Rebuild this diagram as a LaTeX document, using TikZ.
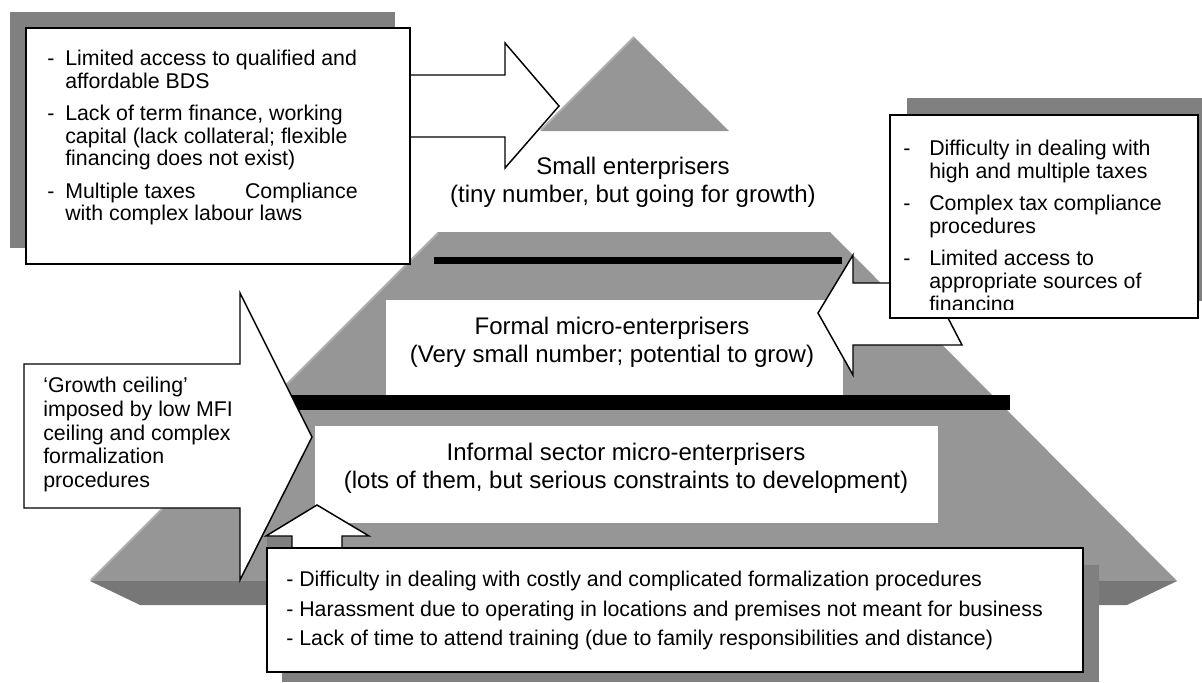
\documentclass[tikz,border=0pt]{standalone}
\usepackage{fontspec}
\setmainfont{Liberation Sans}

\definecolor{facegrey}{HTML}{969696}
\definecolor{bandgrey}{HTML}{777777}
\definecolor{shadowgrey}{HTML}{808080}
\definecolor{edgegrey}{HTML}{B0B0B0}

\newcommand{\dashitem}[2][13.5pt]{\makebox[#1][l]{-}#2}
\newcommand{\hangline}[2][13.5pt]{\hspace*{#1}#2}

\begin{document}
\begin{tikzpicture}[x=0.75pt, y=-0.75pt,
    boxtext/.style={inner sep=0pt, align=left, font=\fontsize{16}{16.9}\selectfont},
    tierlabel/.style={inner sep=0pt, align=center, font=\fontsize{18}{21}\selectfont},
    callout/.style={draw=black, fill=white, line width=1.1pt, line join=miter},
    boxshadow/.style={fill=shadowgrey}]
    \useasboundingbox (0,0) rectangle (1202,682);

    % pyramid
    \fill[facegrey] (438,232) -- (830,232) -- (1177,581) -- (90,581) -- cycle;
    \fill[bandgrey] (90,581) -- (1177,581) -- (1127,605) -- (140,605) -- cycle;
    \draw[edgegrey, line width=1.5pt] (91,580) -- (438,233);
    \fill[facegrey] (634,37) -- (729,131) -- (540,131) -- cycle;
    \draw[edgegrey, line width=1.5pt] (541,130) -- (634,37);

    \fill[black] (434,257) rectangle (842,264);
    \fill[black] (280,395) rectangle (1010,410);
    \fill[white] (386,300) rectangle (843,395);
    \fill[white] (315,426) rectangle (938,523);

    \node[tierlabel, anchor=north] (small) at (633,157) {Small enterprisers\\(tiny number, but going for growth)};
    \node[tierlabel, anchor=north] (formal) at (612,317) {Formal micro-enterprisers\\(Very small number; potential to grow)};
    \node[tierlabel, anchor=north] (informal) at (626,443) {Informal sector micro-enterprisers\\(lots of them, but serious constraints to development)};

    % small enterprises box
    \fill[boxshadow] (10,12) rectangle (395,248);
    \draw[callout] (400,75) -- (505,75) -- (505,43) -- (559,106) -- (505,168) -- (505,137) -- (400,137) -- cycle;
    \draw[callout] (26,28) rectangle (410,264);
    \node[boxtext, anchor=north west] (access) at (47,50) {%
        \dashitem{Limited access to qualified and}\\
        \hangline{affordable BDS}\\[7.5pt]
        \dashitem{Lack of term finance, working}\\
        \hangline{capital (lack collateral; flexible}\\
        \hangline{financing does not exist)}\\[7.5pt]
        \dashitem{Multiple taxes\hspace*{37pt}Compliance}\\
        \hangline{with complex labour laws}};

    % formal box
    \fill[boxshadow] (907,98) rectangle (1202,301);
    \draw[callout] (900,283) -- (853,283) -- (853,255) -- (818,313) -- (853,375) -- (853,345) -- (962,345) -- (948,318) -- (900,318) -- cycle;
    \draw[callout] (890,115) rectangle (1198,318);
    \begin{scope}
        \clip (890,115) rectangle (1198,309);
        \node[boxtext, anchor=north west, font=\fontsize{16}{17.25}\selectfont] (taxes) at (903,140) {%
            \dashitem[19.5pt]{Difficulty in dealing with}\\
            \hangline[19.5pt]{high and multiple taxes}\\[6.75pt]
            \dashitem[19.5pt]{Complex tax compliance}\\
            \hangline[19.5pt]{procedures}\\[6.75pt]
            \dashitem[19.5pt]{Limited access to}\\
            \hangline[19.5pt]{appropriate sources of}\\
            \hangline[19.5pt]{financing}};
    \end{scope}

    % growth ceiling
    \draw[callout] (24,364) -- (240,364) -- (240,293) -- (312,437) -- (240,580) -- (240,508) -- (24,508) -- cycle;
    \node[boxtext, anchor=north west, font=\fontsize{16}{17.8}\selectfont] (ceiling) at (43,377) {%
        `Growth ceiling'\\imposed by low MFI\\ceiling and complex\\formalization\\procedures};

    % informal box
    \fill[boxshadow] (282,565) rectangle (1099,682);
    \fill[boxshadow] (267,536) rectangle (292,548);
    \draw[callout] (317,505) -- (369,536) -- (342,536) -- (342,560) -- (292,560) -- (292,536) -- (266,536) -- cycle;
    \draw[callout] (267,548) rectangle (1083,672);
    \node[boxtext, anchor=north west, font=\fontsize{16}{22.1}\selectfont] (premises) at (286,571) {%
        - Difficulty in dealing with costly and complicated formalization procedures\\
        - Harassment due to operating in locations and premises not meant for business\\
        - Lack of time to attend training (due to family responsibilities and distance)};
\end{tikzpicture}
\end{document}
